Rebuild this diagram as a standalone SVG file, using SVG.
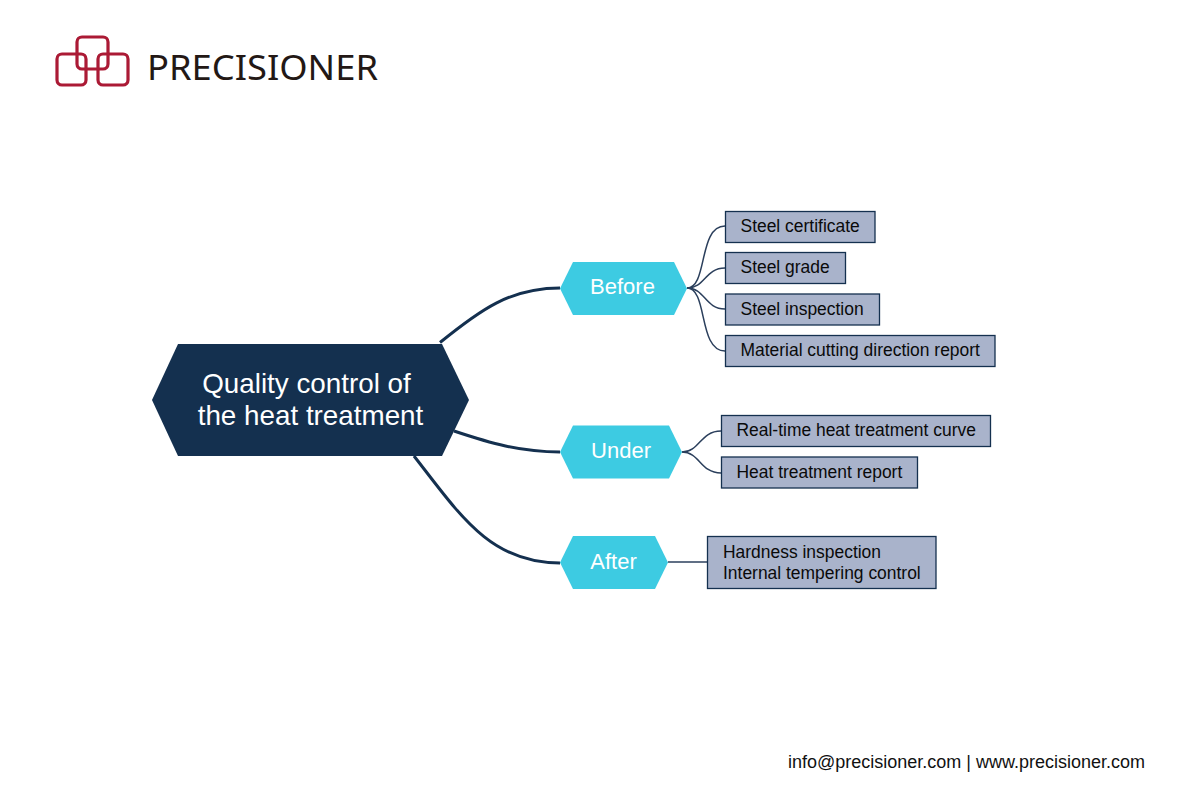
<svg xmlns="http://www.w3.org/2000/svg" width="1200" height="800" viewBox="0 0 1200 800">
<style>
text{font-family:"Liberation Sans",Arial,sans-serif}
.box{fill:#a9b3cb;stroke:#14304f;stroke-width:1.3}
.bt{font-size:17.45px;fill:#0a0a0a}
.hex{fill:#3dcbe2}
.ht{font-size:22px;fill:#fff;text-anchor:middle}
.rt{font-size:27.8px;fill:#fff;text-anchor:middle}
.main{fill:none;stroke:#14304f;stroke-width:3}
.thin{fill:none;stroke:#2b3f5c;stroke-width:1.5}
.lg{fill:none;stroke:#ab1a35;stroke-width:3.2}
</style>
<rect width="1200" height="800" fill="#fff"/>
<g id="logo">
<rect class="lg" x="57" y="54" width="29" height="31" rx="5"/>
<rect class="lg" x="98" y="54" width="30" height="31" rx="5"/>
<rect class="lg" x="77" y="37" width="31" height="32" rx="5"/>
<text x="147" y="80" font-size="34.500" fill="#231815" textLength="231" lengthAdjust="spacingAndGlyphs" style="font-family:'Noto Sans',sans-serif">PRECISIONER</text>
</g>
<g id="connectors">
<path class="main" d="M440 342.500C480 310 510 288 560 288"/>
<path class="main" d="M454 431C490 443 520 452 560 452"/>
<path class="main" d="M414 456C460 515 490 563 560 563"/>
<path class="thin" d="M687 288C708 288 698 226 725 226"/>
<path class="thin" d="M687 288C705 288 705 268 725 268"/>
<path class="thin" d="M687 288C705 288 705 309 725 309"/>
<path class="thin" d="M687 288C708 288 698 351 725 351"/>
<path class="thin" d="M682 452C700 452 700 431 721 431"/>
<path class="thin" d="M682 452C700 452 700 473 721 473"/>
<path class="thin" d="M668 562H707"/>
</g>
<g id="root">
<polygon points="178,344 442,344 469,400 442,456 178,456 152,400" fill="#14304f"/>
<text class="rt" x="306.500" y="392.500">Quality control of</text>
<text class="rt" x="310.500" y="424.500">the heat treatment</text>
</g>
<g id="before">
<polygon class="hex" points="573,262 674,262 687,288.500 674,315 573,315 560,288.500"/>
<text class="ht" x="622.500" y="294">Before</text>
</g>
<g id="under">
<polygon class="hex" points="573,425.500 669,425.500 682,452 669,478.500 573,478.500 560,452"/>
<text class="ht" x="621" y="457.500">Under</text>
</g>
<g id="after">
<polygon class="hex" points="573,536 655,536 668,562.500 655,589 573,589 560,562.500"/>
<text class="ht" x="613.500" y="569">After</text>
</g>
<g id="steel-certificate"><rect class="box" x="725.500" y="211.500" width="149.500" height="31"/><text class="bt" x="740.500" y="232">Steel certificate</text></g>
<g id="steel-grade"><rect class="box" x="725.500" y="252.500" width="120" height="31"/><text class="bt" x="740.500" y="273">Steel grade</text></g>
<g id="steel-inspection"><rect class="box" x="725.500" y="294" width="154" height="31"/><text class="bt" x="740.500" y="315">Steel inspection</text></g>
<g id="material-report"><rect class="box" x="725.500" y="335.500" width="269.500" height="31"/><text class="bt" x="740.500" y="356">Material cutting direction report</text></g>
<g id="real-time"><rect class="box" x="721.500" y="415.500" width="269" height="31"/><text class="bt" x="736.500" y="435.500">Real-time heat treatment curve</text></g>
<g id="heat-report"><rect class="box" x="721.500" y="457" width="196" height="31"/><text class="bt" x="736.500" y="478">Heat treatment report</text></g>
<g id="hardness"><rect class="box" x="707.500" y="536.500" width="228.500" height="52"/><text class="bt" x="723" y="558">Hardness inspection</text><text class="bt" x="723" y="579">Internal tempering control</text></g>
<text x="1145" y="768" font-size="18" fill="#111" text-anchor="end">info@precisioner.com | www.precisioner.com</text>
</svg>
